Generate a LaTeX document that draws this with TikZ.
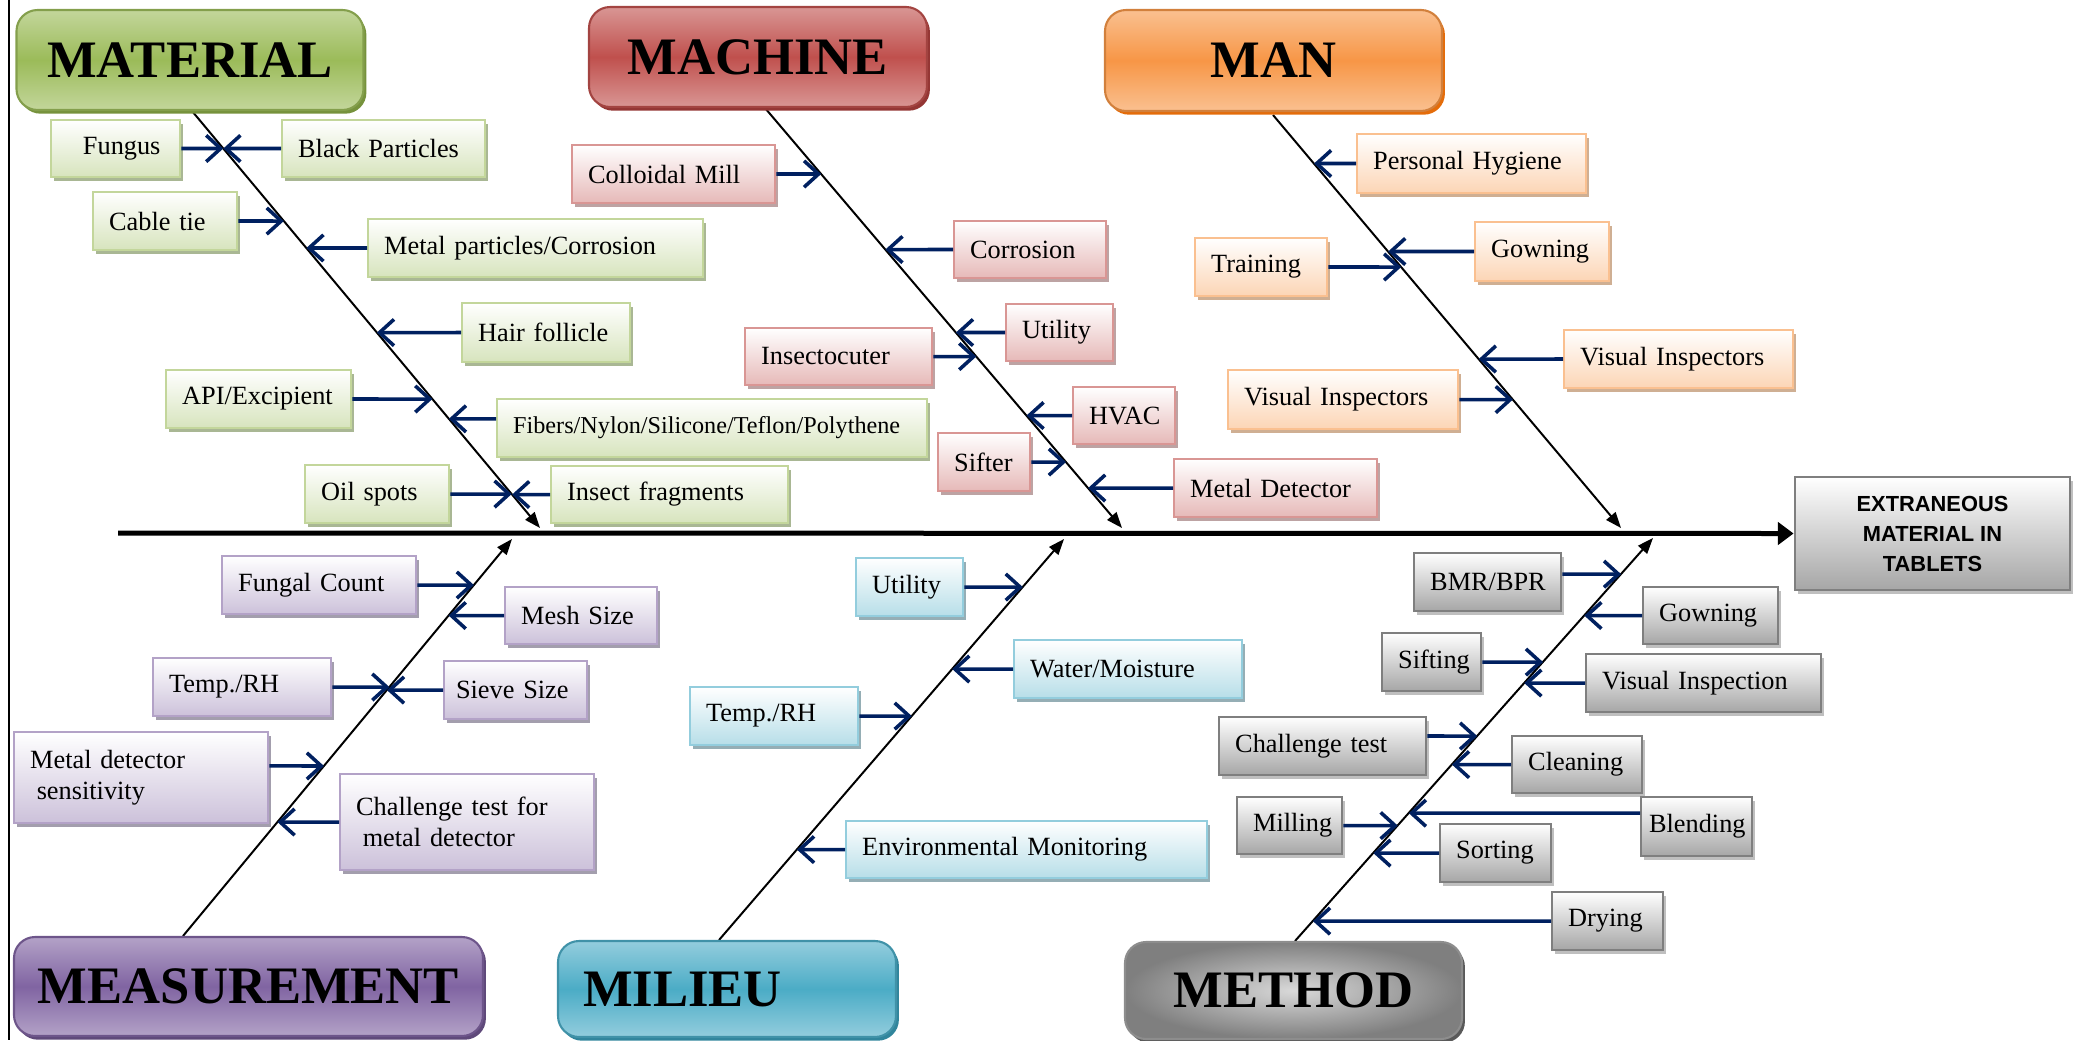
\documentclass[tikz,border=0pt]{standalone}
\usepackage{fontspec}
\setmainfont{Liberation Serif}
\newfontfamily\effectfont{Liberation Sans}
\usepackage{tikz}
\usepackage{xcolor}
\usetikzlibrary{arrows.meta,shadows}

\hyphenpenalty=10000
\exhyphenpenalty=10000

% one pixel of the original picture
\newcommand{\pxu}{0.38pt}

% colours of the six groups (L light, B border, M middle, D dark, S shadow)
\definecolor{grnL}{HTML}{D7E4BD}\definecolor{grnB}{HTML}{C3D69B}\definecolor{grnM}{HTML}{9BBB59}
\definecolor{grnD}{HTML}{76923C}\definecolor{grnS}{HTML}{A9B794}
\definecolor{redL}{HTML}{E6B9B8}\definecolor{redB}{HTML}{D99694}\definecolor{redM}{HTML}{C0504D}
\definecolor{redD}{HTML}{943634}\definecolor{redS}{HTML}{BDA3A3}
\definecolor{orgL}{HTML}{FCD5B5}\definecolor{orgB}{HTML}{FAC090}\definecolor{orgM}{HTML}{F79646}
\definecolor{orgD}{HTML}{E46C0A}\definecolor{orgS}{HTML}{CFAF93}
\definecolor{purL}{HTML}{CCC1DA}\definecolor{purB}{HTML}{B3A2C7}\definecolor{purM}{HTML}{8064A2}
\definecolor{purD}{HTML}{5F497A}\definecolor{purS}{HTML}{A39EAD}
\definecolor{bluL}{HTML}{B7DEE8}\definecolor{bluB}{HTML}{93CDDD}\definecolor{bluM}{HTML}{4BACC6}
\definecolor{bluD}{HTML}{31859C}\definecolor{bluS}{HTML}{95AEB5}
\definecolor{gryL}{HTML}{A6A6A6}\definecolor{gryB}{HTML}{7F7F7F}\definecolor{gryM}{HTML}{A6A6A6}
\definecolor{gryD}{HTML}{595959}\definecolor{gryS}{HTML}{BFBFBF}
\definecolor{gryI}{HTML}{D9D9D9}\definecolor{gryO}{HTML}{7F7F7F}
\definecolor{navy}{HTML}{002060}

\tikzset{
  cbox/.style={draw=#1B, line width=0.9pt, top color=white, bottom color=#1L,
    general shadow={fill=#1S, shadow xshift=1.2pt, shadow yshift=-1.5pt},
    font=\fontsize{10}{11.6}\selectfont, align=left, anchor=west,
    inner xsep=6.08pt, inner ysep=0pt},
  sz/.style 2 args={text width=#1*\pxu-12.16pt, minimum height=#2*\pxu},
  headbox/.style={draw=#1M!85!black, line width=0.8pt, rounded corners=8pt,
    top color=#1B, bottom color=#1B, middle color=#1M,
    general shadow={fill=#1D, shadow xshift=1.1pt, shadow yshift=-1.4pt},
    font=\fontsize{20}{24}\selectfont\bfseries, inner sep=0pt},
  hsz/.style 2 args={minimum width=#1*\pxu, minimum height=#2*\pxu},
  effectbox/.style={draw=gryB, line width=1.1pt, top color=white, bottom color=gryL,
    general shadow={fill=gryS, shadow xshift=1.1pt, shadow yshift=-1.4pt},
    font=\effectfont\fontsize{8.3}{11.4}\selectfont\bfseries, align=center},
  carrow/.style={draw=navy, line width=1.35pt, -{Straight Barb[length=5.5pt,width=10pt]}},
  spine/.style={draw=black, line width=0.75pt, -{Triangle[length=6pt,width=4.5pt]}},
  backbone/.style={draw=black, line width=1.9pt, -{Triangle[length=6pt,width=8.5pt]}}
}

\begin{document}
\begin{tikzpicture}[x=0.38pt, y=-0.38pt]
        \useasboundingbox (0,0) rectangle (2078,1040);

        % Left frame line
        \draw[line width=1pt] (9,0) -- (9,1040);

        % Effect and backbone
        \node[effectbox, minimum width=275*\pxu, minimum height=113*\pxu] (effect) at (1932.5,533.5) {EXTRANEOUS\\MATERIAL IN\\TABLETS};
        \coordinate (tail) at (118,533);
        \draw[backbone] (tail) -- (effect.west);

        % Ends of the six bones
        \coordinate (matS) at (192,111);  \coordinate (matE) at (540,528);
        \coordinate (macS) at (765,108);  \coordinate (macE) at (1122,528);
        \coordinate (manS) at (1273,115); \coordinate (manE) at (1621,528);
        \coordinate (meaS) at (183,936);  \coordinate (meaE) at (512,539);
        \coordinate (milS) at (719,940);  \coordinate (milE) at (1064,539);
        \coordinate (metS) at (1295,941); \coordinate (metE) at (1653,538);
        \foreach \b in {mat,mac,man,mea,mil,met}
            \draw[spine] (\b S) -- (\b E);

        % Headings
        \node[headbox=grn, hsz={347}{100}] (material) at (190,60) {MATERIAL};
        \node[headbox=red, hsz={338}{100}] (machine) at (758,57) {MACHINE};
        \node[headbox=org, hsz={337}{101}] (man) at (1273.5,60.5) {MAN};
        \node[headbox=pur, hsz={469}{99}] (measurement) at (248.5,986.5) {MEASUREMENT};
        \node[headbox=blu, hsz={338}{96}, text width=288*\pxu, inner xsep=25*\pxu, align=left] (milieu) at (727,989) {MILIEU};
        \node[headbox=gry, inner color=gryI, outer color=gryO, hsz={337}{97}] (method) at (1293.5,990.5) {METHOD};

        % Material causes
        \node[cbox=grn, sz={129}{57}] (fungus) at (50,148.5) {\hspace*{6pt}Fungus};
        \node[cbox=grn, sz={203}{57}] (blackp) at (281,148.5) {Black Particles};
        \node[cbox=grn, sz={144}{58}] (cable) at (92,221) {Cable tie};
        \node[cbox=grn, sz={335}{58}] (metalp) at (367,248) {Metal particles/Corrosion};
        \node[cbox=grn, sz={168}{59}] (hair) at (461,332.5) {Hair follicle};
        \node[cbox=grn, sz={185}{58}] (api) at (165,399) {API/Excipient};
        \node[cbox=grn, sz={430}{58}, font=\fontsize{9.2}{11}\selectfont] (fibers) at (496,428) {Fibers/Nylon/Silicone/Teflon/Polythene};
        \node[cbox=grn, sz={144}{58}] (oil) at (304,494) {Oil spots};
        \node[cbox=grn, sz={237}{57}] (insect) at (550,494.5) {Insect fragments};

        % Machine causes
        \node[cbox=red, sz={203}{58}] (colloid) at (571,174) {Colloidal Mill};
        \node[cbox=red, sz={152}{57}] (corr) at (953,249.5) {Corrosion};
        \node[cbox=red, sz={107}{57}] (utilmac) at (1005,332.5) {Utility};
        \node[cbox=red, sz={187}{57}] (insecto) at (744,356.5) {Insectocuter};
        \node[cbox=red, sz={102}{57}] (hvac) at (1072,415.5) {HVAC};
        \node[cbox=red, sz={92}{58}] (sifter) at (937,462) {Sifter};
        \node[cbox=red, sz={203}{58}] (metdet) at (1173,488) {Metal Detector};

        % Man causes
        \node[cbox=org, sz={229}{59}] (hygiene) at (1356,163.5) {Personal Hygiene};
        \node[cbox=org, sz={132}{58}] (training) at (1194,267) {Training};
        \node[cbox=org, sz={134}{59}] (gownman) at (1474,251.5) {Gowning};
        \node[cbox=org, sz={229}{58}] (visR) at (1563,359) {Visual Inspectors};
        \node[cbox=org, sz={230}{59}] (visL) at (1227,399.5) {Visual Inspectors};

        % Measurement causes
        \node[cbox=pur, sz={194}{58}] (fungal) at (221,585) {Fungal Count};
        \node[cbox=pur, sz={152}{57}] (mesh) at (504,615.5) {Mesh Size};
        \node[cbox=pur, sz={178}{58}] (tempmea) at (152,687) {Temp./RH};
        \node[cbox=pur, sz={143}{58}, inner xsep=4.5pt, text width=143*\pxu-9pt] (sieve) at (443,690) {Sieve Size};
        \node[cbox=pur, sz={254}{91}] (mdsens) at (13,777.5) {Metal detector\\\hspace*{0.25em}sensitivity};
        \node[cbox=pur, sz={254}{96}] (chal) at (339,822) {Challenge test for\\\hspace*{0.25em}metal detector};

        % Milieu causes
        \node[cbox=blu, sz={107}{58}] (utilmil) at (855,587) {Utility};
        \node[cbox=blu, sz={228}{58}] (water) at (1013,669) {Water/Moisture};
        \node[cbox=blu, sz={168}{58}] (tempmil) at (689,716) {Temp./RH};
        \node[cbox=blu, sz={361}{57}] (envm) at (845,849.5) {Environmental Monitoring};

        % Method causes
        \node[cbox=gry, sz={147}{58}] (bmr) at (1413,582) {BMR/BPR};
        \node[cbox=gry, sz={135}{57}] (gownmet) at (1642,615.5) {Gowning};
        \node[cbox=gry, sz={99}{58}] (sifting) at (1381,662) {Sifting};
        \node[cbox=gry, sz={235}{58}] (visinsp) at (1585,683) {Visual Inspection};
        \node[cbox=gry, sz={207}{58}] (chaltest) at (1218,746) {Challenge test};
        \node[cbox=gry, sz={130}{57}] (cleaning) at (1511,764.5) {Cleaning};
        \node[cbox=gry, sz={105}{57}] (milling) at (1236,825.5) {Milling};
        \node[cbox=gry, sz={111}{59}, inner xsep=3pt, text width=111*\pxu-6pt] (blending) at (1640,826.5) {Blending};
        \node[cbox=gry, sz={111}{58}] (sorting) at (1439,853) {Sorting};
        \node[cbox=gry, sz={111}{58}] (drying) at (1551,921) {Drying};

        % Arrows that leave a box above its middle
        \coordinate (fibA) at ([yshift=3.5pt]fibers.west);  \coordinate (fibB) at ([yshift=3.5pt]fibers.east);
        \coordinate (mdsA) at ([yshift=4.4pt]mdsens.west);  \coordinate (mdsB) at ([yshift=4.4pt]mdsens.east);
        \coordinate (bmrA) at ([yshift=3pt]bmr.west);       \coordinate (bmrB) at ([yshift=3pt]bmr.east);
        \coordinate (chtA) at ([yshift=3.8pt]chaltest.west); \coordinate (chtB) at ([yshift=3.8pt]chaltest.east);
        \coordinate (blnA) at ([yshift=5.1pt]blending.west); \coordinate (blnB) at ([yshift=5.1pt]blending.east);

        % Material arrows
        \foreach \c in {fungus,blackp,cable,metalp,hair,api,oil,insect}
            \draw[carrow] (\c) -- (intersection of \c.west--\c.east and matS--matE);
        \draw[carrow] (fibA) -- (intersection of fibA--fibB and matS--matE);

        % Machine arrows
        \foreach \c in {colloid,corr,utilmac,insecto,hvac,sifter,metdet}
            \draw[carrow] (\c) -- (intersection of \c.west--\c.east and macS--macE);

        % Man arrows
        \foreach \c in {hygiene,training,gownman,visR,visL}
            \draw[carrow] (\c) -- (intersection of \c.west--\c.east and manS--manE);

        % Measurement arrows
        \foreach \c in {fungal,mesh,tempmea,sieve,chal}
            \draw[carrow] (\c) -- (intersection of \c.west--\c.east and meaS--meaE);
        \draw[carrow] (mdsB) -- (intersection of mdsA--mdsB and meaS--meaE);

        % Milieu arrows
        \foreach \c in {utilmil,water,tempmil,envm}
            \draw[carrow] (\c) -- (intersection of \c.west--\c.east and milS--milE);

        % Method arrows
        \foreach \c in {gownmet,sifting,visinsp,cleaning,milling,sorting,drying}
            \draw[carrow] (\c) -- (intersection of \c.west--\c.east and metS--metE);
        \draw[carrow] (bmrB) -- (intersection of bmrA--bmrB and metS--metE);
        \draw[carrow] (chtB) -- (intersection of chtA--chtB and metS--metE);
        \draw[carrow] (blnA) -- (intersection of blnA--blnB and metS--metE);
    \end{tikzpicture}
\end{document}
